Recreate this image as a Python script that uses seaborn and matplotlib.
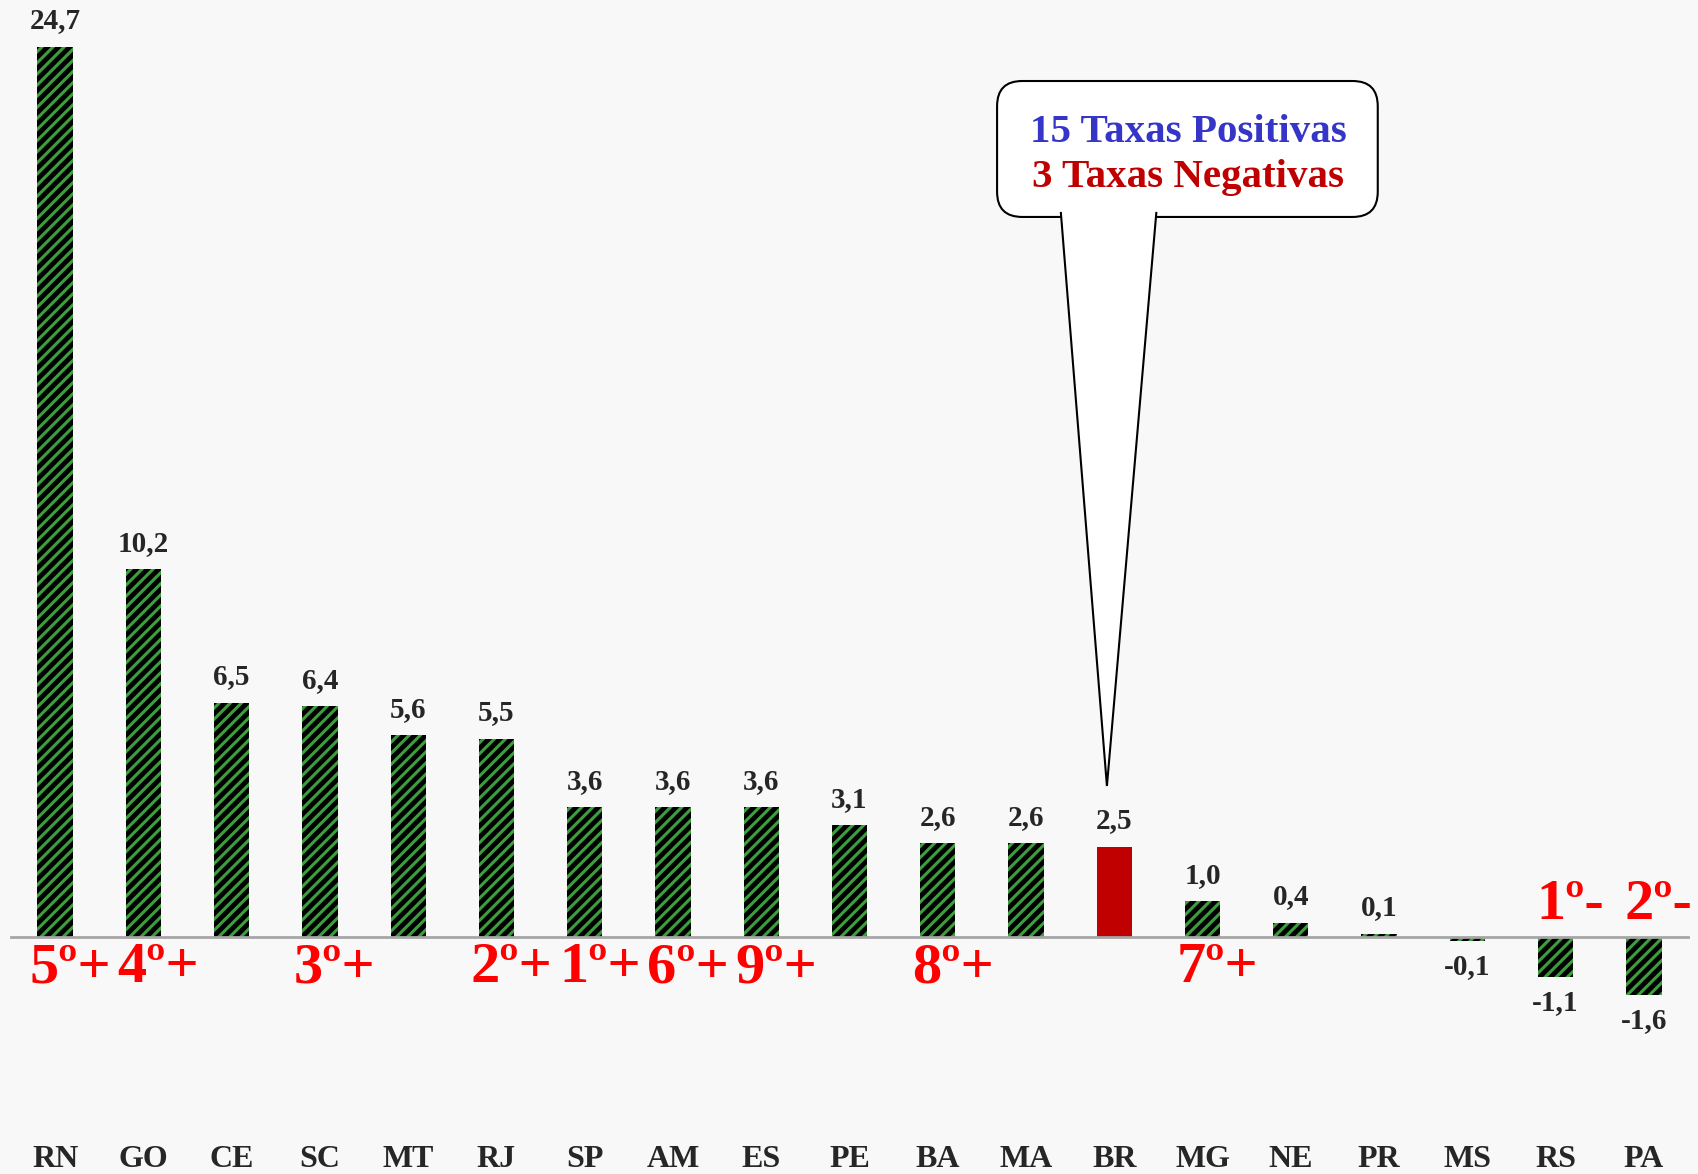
import numpy as np
import pandas as pd
import matplotlib
matplotlib.use('Agg')
import matplotlib.pyplot as plt
import seaborn as sns
from matplotlib.patches import FancyBboxPatch, Polygon

# dados
ufs = ['RN', 'GO', 'CE', 'SC', 'MT', 'RJ', 'SP', 'AM', 'ES', 'PE',
       'BA', 'MA', 'BR', 'MG', 'NE', 'PR', 'MS', 'RS', 'PA']
taxas = [24.7, 10.2, 6.5, 6.4, 5.6, 5.5, 3.6, 3.6, 3.6, 3.1,
         2.6, 2.6, 2.5, 1.0, 0.4, 0.1, -0.1, -1.1, -1.6]
ranks = ['5º+', '4º+', '', '3º+', '', '2º+', '1º+', '6º+', '9º+', '',
         '8º+', '', '', '7º+', '', '', '', '1º-', '2º-']
callout_lines = ['15 Taxas Positivas', '3 Taxas Negativas']

df = pd.DataFrame({'uf': ufs, 'taxa': taxas})

sns.set_style('white')
plt.rcParams['font.family'] = ['Liberation Serif', 'DejaVu Serif']
plt.rcParams['hatch.linewidth'] = 2.2

bg = '#f8f8f8'
fig = plt.figure(figsize=(16.99, 11.74), dpi=100, facecolor=bg)
ax = fig.add_axes([11 / 1699, 0, 1677 / 1699, 1])
ax.set_facecolor(bg)

sns.barplot(data=df, x='uf', y='taxa', color='black', saturation=1,
            width=0.4, ax=ax)
for bar, uf in zip(ax.patches, ufs):
    if uf == 'BR':
        bar.set_facecolor('#c00000')
        bar.set_edgecolor('#c00000')
        bar.set_linewidth(0)
    else:
        bar.set_facecolor('black')
        bar.set_edgecolor('#3c9e3c')
        bar.set_hatch('///')
        bar.set_linewidth(0)

labels = [f'{v:.1f}'.replace('.', ',') for v in taxas]
ax.bar_label(ax.containers[0], labels=labels, padding=9, fontsize=21,
             fontweight='bold')

# ranking
for i, (r, v) in enumerate(zip(ranks, taxas)):
    if not r:
        continue
    y = -1.25 if v > 0 else 0.5
    ax.text(i + 0.17, y, r, ha='center', va='baseline', color='#ff0000',
            fontsize=42, fontweight='bold')

ax.set_xlim(-0.5, 18.5)
ax.set_ylim(-6.57, 25.99)
ax.set_xlabel('')
ax.set_ylabel('')
ax.set_yticks([])
for s in ['left', 'right', 'top']:
    ax.spines[s].set_visible(False)
ax.spines['bottom'].set_position(('data', 0))
ax.spines['bottom'].set_color('#a6a6a6')
ax.spines['bottom'].set_linewidth(2)
ax.set_xticks(np.arange(-0.5, 19, 1), minor=True)
ax.tick_params(axis='x', which='minor', length=7, width=1.5,
               color='#a6a6a6', direction='out')
ax.tick_params(axis='x', which='major', length=0, pad=150, labelsize=23)
for lbl in ax.get_xticklabels():
    lbl.set_fontweight('bold')

# balao
box = FancyBboxPatch((0.588, 0.8152), 0.227, 0.1158,
                     boxstyle='round,pad=0,rounding_size=0.015',
                     mutation_aspect=1677 / 1174, transform=ax.transAxes,
                     fc='white', ec='black', lw=1.5, zorder=5)
ax.add_patch(box)
ptr = Polygon([[0.626, 0.8195], [0.6535, 0.3305], [0.683, 0.8195]],
              closed=False, transform=ax.transAxes, fc='white', ec='black',
              lw=1.5, zorder=6)
ax.add_patch(ptr)
ax.text(0.702, 0.887, callout_lines[0], transform=ax.transAxes, ha='center',
        va='center', fontsize=29.5, fontweight='bold', color='#3535c8', zorder=7)
ax.text(0.702, 0.849, callout_lines[1], transform=ax.transAxes, ha='center',
        va='center', fontsize=29.5, fontweight='bold', color='#c00000', zorder=7)

fig.savefig('out.png', dpi=100, facecolor=bg)
